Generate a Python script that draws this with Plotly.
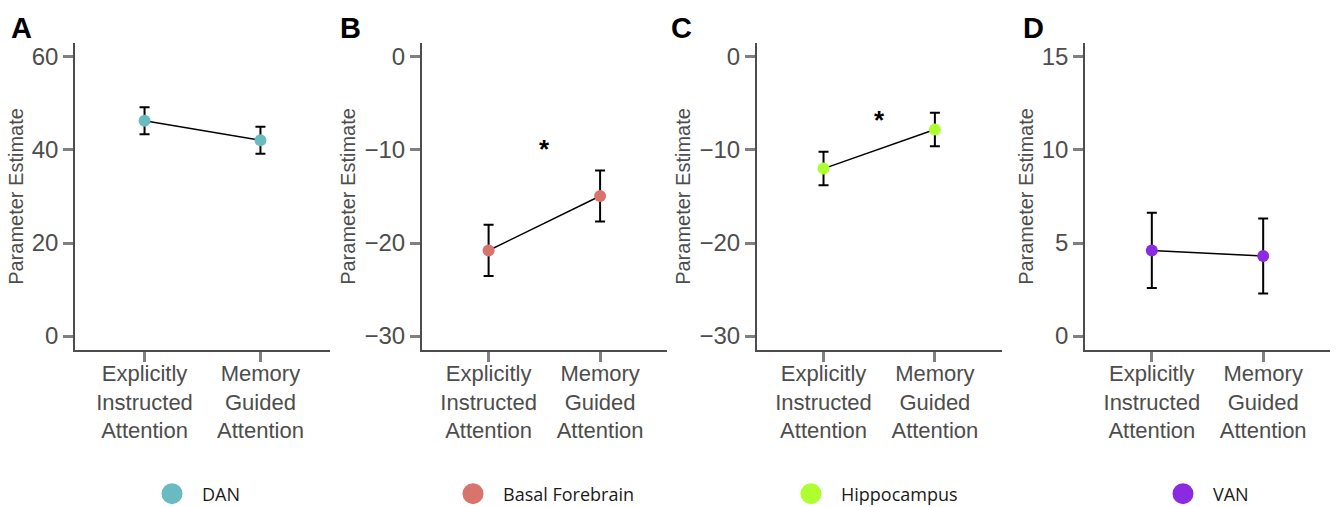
import plotly.graph_objects as go

categories = ["Explicitly<br>Instructed<br>Attention", "Memory<br>Guided<br>Attention"]
regions = ["DAN", "Basal Forebrain", "Hippocampus", "VAN"]
panel_letters = ["A", "B", "C", "D"]
colors = ["#6ABBC1", "#D9746C", "#ADFF2F", "#8A2BE2"]

dan_est = [46.3, 42.1]
dan_err = [2.9, 2.9]
bf_est = [-20.8, -14.95]
bf_err = [2.75, 2.75]
hip_est = [-12.0, -7.8]
hip_err = [1.8, 1.8]
van_est = [4.6, 4.3]
van_err = [2.02, 2.02]

estimates = [dan_est, bf_est, hip_est, van_est]
errors = [dan_err, bf_err, hip_err, van_err]
star_y = [None, -9.9, -6.8, None]

y_ranges = [[-3, 63], [-31.5, 1.5], [-31.5, 1.5], [-0.75, 15.75]]
y_dticks = [20, 10, 10, 5]

W, H = 1336, 507
x_domains_px = [(75, 330), (421.7, 667), (756.7, 1001.7), (1085, 1330)]
y_domain_px = (43, 350)
letter_x_px = [21, 351, 681, 1033]
legend_x_px = [172, 473, 811, 1183]

fig = go.Figure()
tick_font = dict(family="Liberation Sans, Arial, sans-serif", size=24, color="#4d4d4d")
cat_font = dict(family="Liberation Sans, Arial, sans-serif", size=22, color="#4d4d4d")

for i in range(4):
    xa = "x" if i == 0 else f"x{i+1}"
    ya = "y" if i == 0 else f"y{i+1}"
    lg = "legend" if i == 0 else f"legend{i+1}"
    fig.add_trace(go.Scatter(
        x=categories, y=estimates[i], xaxis=xa, yaxis=ya,
        mode="lines+markers",
        line=dict(color="black", width=1.5),
        marker=dict(color=colors[i], size=12),
        error_y=dict(type="data", array=errors[i], color="black", thickness=2, width=5),
        showlegend=False, name=regions[i],
    ))
    # legend key
    fig.add_trace(go.Scatter(
        x=[None], y=[None], xaxis=xa, yaxis=ya, mode="markers",
        marker=dict(color=colors[i], size=16, line=dict(color=colors[i], width=5)),
        name=regions[i], legend=lg, showlegend=True,
    ))
    d0, d1 = x_domains_px[i]
    xkey = "xaxis" if i == 0 else f"xaxis{i+1}"
    ykey = "yaxis" if i == 0 else f"yaxis{i+1}"
    fig.layout[xkey] = dict(
        domain=[d0 / W, d1 / W], anchor=ya, type="category",
        range=[-0.6, 1.6], showline=True, linecolor="#4d4d4d", linewidth=1.5,
        ticks="outside", ticklen=10, tickwidth=2.5, tickcolor="#808080",
        showgrid=False, zeroline=False, tickfont=cat_font, fixedrange=True,
        automargin=False, ticklabelstandoff=-7,
    )
    fig.layout[ykey] = dict(
        domain=[1 - y_domain_px[1] / H, 1 - y_domain_px[0] / H], anchor=xa,
        range=y_ranges[i], dtick=y_dticks[i], tick0=0,
        showline=True, linecolor="#4d4d4d", linewidth=1.5,
        ticks="outside", ticklen=10, tickwidth=2.5, tickcolor="#808080",
        showgrid=False, zeroline=False, tickfont=tick_font,
        title=dict(text="Parameter Estimate",
                   font=dict(family="Liberation Sans, Arial, sans-serif", size=20, color="#4d4d4d"),
                   standoff=3),
        fixedrange=True, automargin=False,
    )
    fig.layout[lg] = dict(
        x=(legend_x_px[i] - 30) / W, xanchor="left", y=1 - 494 / H, yanchor="middle",
        font=dict(family="Open Sans, sans-serif", size=18, color="#1a1a1a"),
        bgcolor="rgba(0,0,0,0)", itemwidth=50,
    )
    fig.add_annotation(
        text=f"<b>{panel_letters[i]}</b>", xref="paper", yref="paper",
        x=letter_x_px[i] / W, y=1 - 28 / H, xanchor="center", yanchor="middle",
        showarrow=False, font=dict(family="Liberation Sans, Arial, sans-serif", size=29, color="black"),
    )
    if star_y[i] is not None:
        fig.add_annotation(
            text="<b>*</b>", xref=xa, yref=ya, x=0.5, y=star_y[i], showarrow=False,
            xanchor="center", yanchor="middle",
            font=dict(family="Liberation Sans, Arial, sans-serif", size=26, color="black"),
        )

fig.update_layout(
    width=W, height=H, margin=dict(l=0, r=0, t=0, b=0, pad=0, autoexpand=False),
    paper_bgcolor="white", plot_bgcolor="white",
)
fig.write_html("out.html", config={"displayModeBar": False},
               post_script="document.body.style.margin='0';document.body.style.overflow='hidden';")
